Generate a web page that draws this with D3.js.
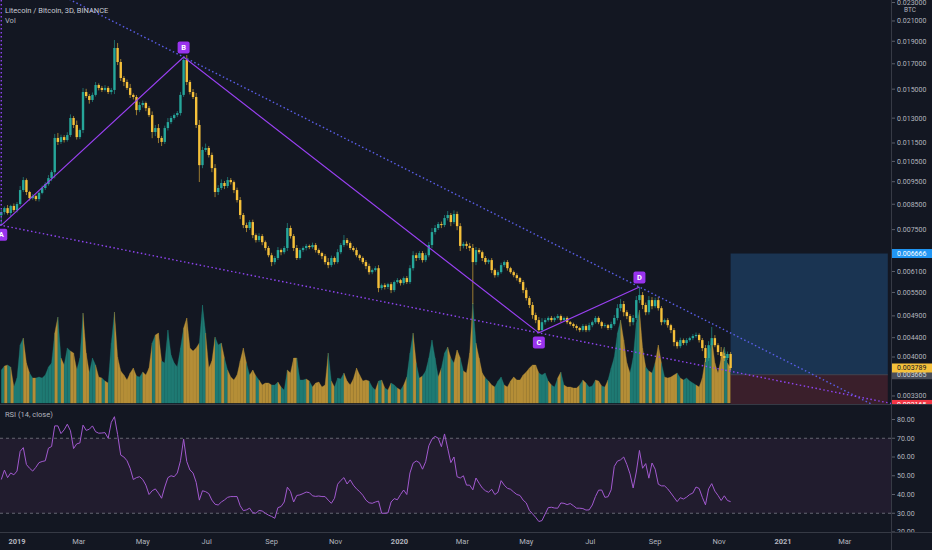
<!DOCTYPE html>
<html>
  <head>
    <meta charset="utf-8">
    <title>LTC/BTC 3D</title>
    <style>
      body {
        margin: 0;
        background-color: #131722;
      }
      svg {
        display: block;
        font-family: Roboto, "Liberation Sans", sans-serif;
      }
    </style>
  </head>
  <body>
    <div id="chart"></div>

    <script src="https://d3js.org/d3.v7.min.js"></script>
    <script>
    var width = 932;
    var height = 550;
    var paneRight = 891, priceBottom = 404, rsiBottom = 532;

    // 3D candles starting 2018-12-17, prices in 1e-6 BTC
    var firstCandle = "2018-12-17";
    var firstOpen = 8050;
    var closes = [
      8180, 8340, 8140, 8430, 8260, 8510, 9117, 9578, 9030, 8760,
      8850, 8720, 8990, 9210, 9390, 9670, 9960, 11790, 11560, 11840,
      11670, 11960, 13010, 12570, 11840, 12260, 14790, 14500, 14220, 14580,
      15310, 15090, 14940, 15090, 14790, 14940, 18380, 17150, 15850, 15540,
      15090, 14580, 14430, 13530, 13870, 14010, 13660, 13200, 12140, 12380,
      11790, 11560, 12380, 12750, 13010, 13200, 13330, 14580, 17320, 15540,
      14790, 14430, 12570, 10310, 11110, 11220, 10840, 10160, 9030, 9210,
      9440, 9300, 9578, 9480, 9117, 8678, 8060, 7670, 7560, 7785,
      7300, 7123, 7265, 7050, 6850, 6610, 6390, 6520, 6780, 6710,
      6850, 7560, 7265, 6850, 6520, 6780, 6850, 6920, 6880, 6950,
      6780, 6680, 6580, 6390, 6295, 6520, 6390, 6710, 6950, 7123,
      7020, 6850, 6780, 6610, 6520, 6390, 6265, 6080, 6142, 6200,
      5620, 5700, 5650, 5730, 5565, 5790, 5846, 5760, 5905, 5790,
      6200, 6610, 6520, 6680, 6453, 6610, 6950, 7410, 7560, 7710,
      7670, 7940, 8060, 7785, 8100, 7630, 6920, 6990, 6920, 6850,
      6390, 6780, 6710, 6520, 6390, 6453, 6142, 5990, 6080, 6295,
      6390, 6200, 6080, 5990, 5905, 5790, 5565, 5350, 5170, 4920,
      4799, 4568, 4750, 4799, 4850, 4799, 4850, 4895, 4799, 4850,
      4750, 4705, 4660, 4615, 4568, 4660, 4568, 4680, 4750, 4850,
      4750, 4660, 4680, 4615, 4705, 4850, 5090, 5195, 4990, 4895,
      4750, 4850, 5297, 5430, 5170, 4990, 5297, 5140, 5297, 5090,
      4750, 4799, 4680, 4568, 4305, 4220, 4348, 4285, 4348, 4390,
      4435, 4460, 4348, 4180, 3980, 4240, 4390, 4240, 4100, 4020,
      3980, 4060, 3789
    ];
    // wick length above / below the body, percent
    var wickUp = [
      1.0, 0.8, 1.5, 0.6, 1.2, 1.0, 2.0, 1.5, 0.8, 0.6,
      1.0, 0.7, 0.8, 1.2, 0.9, 1.5, 1.0, 2.0, 2.5, 1.2,
      1.0, 1.4, 1.8, 1.0, 2.2, 0.8, 2.0, 1.6, 1.0, 1.2,
      1.5, 0.8, 1.0, 1.4, 0.9, 1.0, 4.0, 2.5, 1.5, 1.0,
      1.2, 2.0, 0.8, 1.0, 1.5, 1.2, 0.7, 1.0, 1.8, 1.5,
      2.0, 1.0, 1.2, 2.0, 1.0, 0.8, 1.0, 1.5, 1.5, 2.5,
      1.0, 1.5, 2.0, 2.5, 1.6, 2.2, 1.0, 1.2, 2.0, 1.4,
      1.8, 1.0, 1.5, 1.0, 0.8, 1.2, 1.5, 1.0, 1.2, 1.0,
      1.2, 0.8, 1.4, 1.0, 0.8, 1.0, 1.2, 1.0, 1.5, 0.8,
      1.0, 2.5, 1.2, 1.0, 1.5, 1.0, 0.8, 1.0, 0.7, 1.2,
      1.0, 0.8, 0.7, 1.0, 2.0, 1.2, 0.8, 1.5, 1.0, 2.5,
      1.0, 0.8, 1.0, 1.2, 0.7, 0.8, 1.0, 1.2, 0.8, 1.0,
      1.5, 0.8, 1.0, 0.7, 1.0, 0.8, 1.0, 0.6, 0.8, 1.0,
      1.5, 2.0, 1.2, 1.0, 1.0, 1.2, 1.5, 2.0, 1.5, 1.0,
      1.2, 1.5, 2.0, 1.0, 1.8, 1.2, 1.5, 1.0, 1.2, 1.5,
      2.0, 1.5, 1.0, 0.8, 1.0, 0.7, 1.0, 0.8, 1.0, 1.2,
      0.8, 1.0, 0.7, 0.8, 1.0, 0.6, 1.0, 1.2, 1.0, 1.5,
      1.2, 1.5, 2.0, 1.0, 0.8, 1.0, 0.7, 1.0, 0.8, 0.7,
      0.8, 0.6, 0.7, 0.8, 0.6, 1.0, 0.8, 1.2, 0.8, 1.0,
      0.8, 0.7, 1.0, 0.6, 1.2, 1.5, 2.0, 2.5, 1.5, 1.0,
      1.0, 1.5, 2.0, 4.0, 1.5, 1.2, 2.0, 1.5, 1.2, 1.5,
      1.0, 0.8, 1.0, 0.7, 1.0, 0.8, 1.2, 0.8, 1.0, 0.7,
      1.0, 1.2, 0.8, 1.0, 1.5, 2.0, 5.7, 1.5, 1.0, 2.5,
      1.5, 1.2, 1.0
    ];
    var wickDn = [
      5.0, 1.2, 0.8, 1.5, 1.0, 1.2, 0.8, 1.0, 1.5, 1.2,
      0.8, 1.0, 1.2, 0.7, 1.0, 0.8, 1.5, 3.0, 1.5, 1.0,
      1.2, 0.8, 1.0, 1.5, 1.2, 1.0, 1.5, 1.0, 1.8, 1.0,
      0.8, 1.2, 1.0, 0.8, 1.0, 1.2, 2.0, 1.5, 1.5, 2.0,
      1.0, 1.5, 1.2, 2.5, 1.0, 1.2, 1.5, 1.0, 3.0, 2.0,
      2.5, 2.0, 1.0, 1.2, 1.0, 0.8, 1.0, 1.2, 1.0, 1.5,
      1.2, 1.0, 1.5, 8.0, 1.5, 1.0, 1.2, 2.0, 2.5, 1.5,
      1.0, 1.5, 1.0, 1.2, 1.5, 1.2, 2.0, 1.5, 2.0, 1.0,
      1.5, 1.2, 1.0, 1.5, 1.2, 1.0, 2.0, 1.2, 1.0, 1.5,
      1.0, 1.5, 1.2, 1.5, 1.0, 0.8, 1.0, 1.2, 1.0, 0.8,
      1.2, 1.0, 1.5, 1.2, 1.5, 1.0, 1.2, 0.8, 1.0, 1.0,
      1.2, 1.0, 0.8, 1.0, 1.2, 1.0, 1.5, 1.2, 1.0, 0.8,
      2.0, 1.0, 1.2, 1.0, 1.5, 1.0, 0.8, 1.2, 1.0, 1.0,
      1.0, 1.2, 1.5, 1.0, 1.2, 1.0, 1.0, 1.5, 1.2, 1.0,
      1.5, 1.0, 1.2, 2.0, 1.0, 2.0, 2.5, 1.2, 1.5, 1.5,
      18.6, 1.5, 1.0, 1.5, 1.2, 1.0, 1.5, 1.2, 1.0, 0.8,
      1.0, 1.2, 0.8, 1.0, 1.2, 1.0, 1.5, 1.2, 1.5, 1.8,
      1.5, 1.4, 1.0, 1.2, 0.8, 1.0, 1.0, 0.8, 1.0, 0.8,
      1.0, 0.8, 1.0, 1.2, 1.0, 0.8, 1.0, 0.8, 1.0, 0.8,
      1.0, 1.2, 0.8, 1.0, 1.0, 0.8, 1.2, 1.5, 2.0, 1.5,
      2.0, 1.5, 1.0, 1.5, 2.0, 1.5, 1.2, 1.5, 1.0, 1.2,
      1.5, 1.0, 1.2, 1.5, 2.0, 1.2, 1.0, 1.0, 1.2, 0.8,
      1.0, 0.8, 1.2, 1.5, 2.0, 1.5, 1.2, 1.0, 1.5, 1.2,
      1.5, 1.0, 1.2
    ];
    // volume, thousand LTC
    var volumes = [
      33, 37, 38, 36, 16, 25, 58, 65, 40, 30,
      25, 25, 26, 25, 28, 36, 40, 70, 86, 45,
      38, 55, 52, 50, 33, 45, 90, 50, 30, 45,
      38, 26, 25, 22, 20, 60, 91, 46, 32, 28,
      23, 30, 35, 27, 26, 31, 28, 35, 60, 68,
      70, 42, 40, 73, 48, 40, 36, 55, 75, 85,
      55, 52, 55, 60, 98, 70, 35, 42, 66, 58,
      60, 45, 33, 26, 23, 28, 42, 55, 40, 28,
      33, 27, 23, 18, 20, 20, 18, 18, 21, 16,
      13, 33, 30, 45, 45, 23, 23, 24, 22, 16,
      20, 21, 16, 18, 50, 22, 16, 25, 24, 30,
      22, 18, 24, 35, 28, 22, 23, 22, 16, 13,
      22, 23, 15, 13, 20, 18, 15, 13, 18, 26,
      50, 70, 40, 25, 27, 32, 45, 63, 45, 26,
      35, 50, 56, 45, 40, 53, 45, 32, 30, 50,
      100, 60, 45, 30, 25, 22, 18, 16, 22, 26,
      18, 16, 22, 26, 23, 23, 28, 31, 35, 38,
      38, 30, 28, 30, 22, 18, 16, 25, 31, 18,
      16, 16, 15, 15, 18, 23, 20, 16, 17, 23,
      22, 17, 16, 23, 35, 46, 70, 83, 63, 40,
      30, 45, 80, 93, 55, 36, 32, 30, 40, 58,
      40, 26, 25, 26, 28, 30, 25, 23, 25, 22,
      20, 18, 16, 25, 45, 45, 65, 40, 30, 45,
      56, 40, 35
    ];
    var rsi = [
      48, 53, 49, 51.5, 50.5, 52.5, 63, 65, 56, 54,
      52.5, 54.5, 57, 57.6, 58, 64.7, 65.6, 76.6, 76.6, 72.5,
      74.5, 77.5, 74, 64.5, 67, 67.5, 77, 74.2, 74.8, 76.6,
      73.5, 72.7, 72.8, 73, 70, 78.5, 81.5, 72, 61, 60,
      58, 54, 48, 49, 49.5, 48, 45, 40, 42, 43,
      40.7, 38, 44, 49, 50, 49.5, 51.5, 58, 69.5, 57.6,
      53.1, 51.5, 46.5, 37, 42, 41.5, 40.5, 37, 34.8, 34.4,
      36, 37.1, 38.5, 38.9, 38.9, 38.9, 34, 31.4, 31.8, 32.7,
      30.3, 30, 31.5, 31.2, 30, 29, 28.3, 27.3, 33, 33.6,
      36, 43.9, 41.6, 36, 39.5, 39.8, 40.5, 41.3, 41, 39.3,
      39, 39.2, 38.9, 38.9, 37, 35.3, 38, 45.5, 47.5, 49,
      45.6, 47.8, 45, 43, 41.5, 39.6, 37, 35.6, 35.3, 36,
      36.5, 30, 30, 30.2, 36, 37.8, 37.2, 40, 42.4, 40,
      51.5, 56.7, 57.9, 57, 53.5, 57.5, 66, 69.5, 71, 70,
      65.5, 72.3, 64.7, 57, 60, 49.5, 48.8, 50, 45, 45,
      42.5, 48.8, 46, 43.5, 42, 41.2, 42.8, 40, 41.2, 47.4,
      45, 43.3, 42.8, 41.3, 40, 39.5, 37, 35.5, 31.5, 29.7,
      27.8, 25.6, 26.1, 29.6, 33, 33.2, 32.8, 32.7, 35.5, 35.3,
      34.6, 35.2, 34, 32.7, 32.7, 32.5, 31.7, 31.8, 34.4, 38.9,
      42.3, 42.4, 38.5, 38.8, 42.5, 55, 57.8, 58.5, 60, 56,
      51, 43.5, 52, 63.5, 54, 56.5, 48.7, 56.8, 53.5, 45.5,
      44.6, 44.6, 43, 40.8, 38.5, 36.2, 38.3, 37.6, 38.6, 40,
      40.8, 44, 43.2, 38.5, 34.5, 43, 45.8, 41.8, 39.5, 36.8,
      39.3, 36.8, 36.2
    ];

    var priceTicks = [0.023, 0.021, 0.019, 0.017, 0.015, 0.013, 0.0115, 0.0105, 0.0095,
      0.0085, 0.0075, 0.0061, 0.0055, 0.0049, 0.0044, 0.0040, 0.0033];
    var rsiTicks = [80, 70, 60, 50, 40, 30, 20];
    var timeTicks = ["2019-01-01", "2019-03-01", "2019-05-01", "2019-07-01", "2019-09-01", "2019-11-01",
      "2020-01-01", "2020-03-01", "2020-05-01", "2020-07-01", "2020-09-01", "2020-11-01",
      "2021-01-01", "2021-03-01"];

    var patternLabels = ["A", "B", "C", "D"];
    var patternDates = ["2018-12-17", "2019-06-09", "2020-05-13", "2020-08-17"];
    var patternPrices = [0.00766, 0.01758, 0.004505, 0.00565];

    var targetPrice = 0.006666, entryPrice = 0.003665, stopPrice = 0.003165;
    var positionEnd = "2021-04-11";

    var parse = d3.utcParse("%Y-%m-%d");
    var start = parse(firstCandle);
    var candles = closes.map(function(c, i) {
      var open = (i === 0 ? firstOpen : closes[i - 1]) / 1e6;
      var close = c / 1e6;
      return {
        date: d3.utcDay.offset(start, 3 * i),
        open: open,
        close: close,
        high: Math.max(open, close) * (1 + wickUp[i] / 100),
        low: Math.min(open, close) * (1 - wickDn[i] / 100),
        vol: volumes[i],
        rsi: rsi[i],
        up: close >= open
      };
    });

    var x = d3.scaleUtc()
      .domain([parse("2019-01-01"), parse("2021-01-01")])
      .range([17, 783]);
    var y = d3.scaleLog()
      .domain([0.003172, 0.02329])
      .range([priceBottom, 0]);
    var yVol = d3.scaleLinear()
      .domain([0, 100])
      .range([403, 303]);
    var yRsi = d3.scaleLinear()
      .domain([20, 80])
      .range([532, 419.5]);

    var teal = "#26a69a", gold = "#f5c03a";
    var textColor = "#b2b5be";

    var svg = d3.select("#chart").append("svg")
      .attr("width", width)
      .attr("height", height);

    svg.append("rect")
      .attr("width", width)
      .attr("height", height)
      .attr("fill", "#131722");

    var defs = svg.append("defs");
    defs.append("clipPath").attr("id", "priceClip")
      .append("rect").attr("x", 0).attr("y", 0).attr("width", paneRight).attr("height", priceBottom);
    defs.append("clipPath").attr("id", "rsiClip")
      .append("rect").attr("x", 0).attr("y", priceBottom + 1).attr("width", paneRight).attr("height", rsiBottom - priceBottom - 1);
    defs.append("clipPath").attr("id", "priceAxisClip")
      .append("rect").attr("x", paneRight).attr("y", 0).attr("width", width - paneRight).attr("height", priceBottom);
    defs.append("clipPath").attr("id", "rsiAxisClip")
      .append("rect").attr("x", paneRight).attr("y", priceBottom + 1).attr("width", width - paneRight).attr("height", rsiBottom - priceBottom - 1);

    var pane = svg.append("g").attr("clip-path", "url(#priceClip)");

    // volume as a per-bar coloured area
    var volArea = d3.area()
      .x(function(d) { return x(d.date); })
      .y0(yVol(0))
      .y1(function(d) { return yVol(d.vol); });
    var volPairs = d3.pairs(candles);
    pane.append("g").selectAll("path")
      .data(volPairs)
      .enter()
      .append("path")
      .attr("d", function(p) { return volArea(p); })
      .attr("fill", function(p) { return p[1].up ? "#1f7a73" : "#b58e37"; })
      .attr("stroke", function(p) { return p[1].up ? "#1f7a73" : "#b58e37"; })
      .attr("stroke-width", 0.3);

    // long position tool
    var last = candles[candles.length - 1];
    var boxX0 = x(last.date), boxX1 = x(parse(positionEnd));
    pane.append("rect")
      .attr("x", boxX0)
      .attr("y", y(targetPrice))
      .attr("width", boxX1 - boxX0)
      .attr("height", y(entryPrice) - y(targetPrice))
      .attr("fill", "#1a3452");
    pane.append("rect")
      .attr("x", boxX0)
      .attr("y", y(entryPrice))
      .attr("width", boxX1 - boxX0)
      .attr("height", y(stopPrice) - y(entryPrice))
      .attr("fill", "#3a1f2b");
    pane.append("line")
      .attr("x1", boxX0).attr("x2", boxX1)
      .attr("y1", y(entryPrice)).attr("y2", y(entryPrice))
      .attr("stroke", "#4a4e59")
      .attr("stroke-width", 0.8);

    // candles
    var cg = pane.append("g");
    cg.selectAll("line")
      .data(candles)
      .enter()
      .append("line")
      .attr("x1", function(d) { return x(d.date); })
      .attr("x2", function(d) { return x(d.date); })
      .attr("y1", function(d) { return y(d.high); })
      .attr("y2", function(d) { return y(d.low); })
      .attr("stroke", function(d) { return d.up ? teal : gold; })
      .attr("stroke-opacity", 0.75)
      .attr("stroke-width", 0.8);
    cg.selectAll("rect")
      .data(candles)
      .enter()
      .append("rect")
      .attr("x", function(d) { return x(d.date) - 1.2; })
      .attr("width", 2.4)
      .attr("y", function(d) { return y(Math.max(d.open, d.close)); })
      .attr("height", function(d) { return Math.max(0.8, Math.abs(y(d.open) - y(d.close))); })
      .attr("fill", function(d) { return d.up ? teal : gold; });

    // pattern and trend lines
    var pts = patternLabels.map(function(l, i) {
      return {label: l, x: x(parse(patternDates[i])), y: y(patternPrices[i])};
    });
    function extended(a, b) {
      var k = (b.y - a.y) / (b.x - a.x);
      return [[-20, a.y + k * (-20 - a.x)], [paneRight + 20, a.y + k * (paneRight + 20 - a.x)]];
    }
    pane.append("path")
      .attr("d", d3.line()(extended(pts[1], pts[3])))
      .attr("stroke", "#5a5ee8")
      .attr("stroke-width", 1.4)
      .attr("stroke-dasharray", "1.5,2.5")
      .attr("fill", "none");
    pane.append("path")
      .attr("d", d3.line()(extended(pts[0], pts[2])))
      .attr("stroke", "#8e44f0")
      .attr("stroke-width", 1.4)
      .attr("stroke-dasharray", "1.5,2.5")
      .attr("fill", "none");
    pane.append("line")
      .attr("x1", pts[0].x).attr("x2", pts[0].x)
      .attr("y1", 0).attr("y2", pts[0].y)
      .attr("stroke", "#8e44f0")
      .attr("stroke-width", 1.4)
      .attr("stroke-dasharray", "1.5,2.5");
    pane.append("path")
      .attr("d", d3.line().x(function(d) { return d.x; }).y(function(d) { return d.y; })(pts))
      .attr("stroke", "#9840f0")
      .attr("stroke-width", 1.2)
      .attr("fill", "none");

    var lbl = pane.selectAll(".pl")
      .data(pts)
      .enter()
      .append("g")
      .attr("transform", function(d, i) {
        var dy = (i % 2 === 0) ? 9.5 : -9.5;
        return "translate(" + d.x + "," + (d.y + dy) + ")";
      });
    lbl.append("rect")
      .attr("x", -6).attr("y", -6)
      .attr("width", 12).attr("height", 12)
      .attr("rx", 2)
      .attr("fill", "#9933ee");
    lbl.append("text")
      .attr("text-anchor", "middle")
      .attr("dy", "0.35em")
      .attr("font-size", 7.5)
      .attr("font-weight", "bold")
      .attr("fill", "#ffffff")
      .text(function(d) { return d.label; });

    // RSI pane
    var rp = svg.append("g").attr("clip-path", "url(#rsiClip)");
    rp.append("rect")
      .attr("x", 0).attr("width", paneRight)
      .attr("y", yRsi(70)).attr("height", yRsi(30) - yRsi(70))
      .attr("fill", "#211c2e");
    rp.selectAll(".band")
      .data([70, 30])
      .enter()
      .append("line")
      .attr("x1", 0).attr("x2", paneRight)
      .attr("y1", function(d) { return yRsi(d); })
      .attr("y2", function(d) { return yRsi(d); })
      .attr("stroke", "#787b86")
      .attr("stroke-width", 0.8)
      .attr("stroke-dasharray", "3,3");
    rp.append("path")
      .attr("d", d3.line()
        .x(function(d) { return x(d.date); })
        .y(function(d) { return yRsi(d.rsi); })(candles))
      .attr("stroke", "#a159cf")
      .attr("stroke-width", 1)
      .attr("fill", "none");

    // separators
    svg.append("line")
      .attr("x1", paneRight + 0.5).attr("x2", paneRight + 0.5)
      .attr("y1", 0).attr("y2", height)
      .attr("stroke", "#363a45");
    svg.append("line")
      .attr("x1", 0).attr("x2", width)
      .attr("y1", priceBottom + 0.5).attr("y2", priceBottom + 0.5)
      .attr("stroke", "#363a45");
    svg.append("line")
      .attr("x1", 0).attr("x2", width)
      .attr("y1", rsiBottom + 0.5).attr("y2", rsiBottom + 0.5)
      .attr("stroke", "#363a45");

    // price axis
    var fmt = d3.format(".6f");
    var pa = svg.append("g").attr("clip-path", "url(#priceAxisClip)");
    var pt = pa.selectAll(".pt")
      .data(priceTicks)
      .enter()
      .append("g")
      .attr("transform", function(d) { return "translate(" + paneRight + "," + y(d) + ")"; });
    pt.append("line").attr("x1", 1).attr("x2", 4).attr("stroke", "#5d606b");
    pt.append("text")
      .attr("x", 6)
      .attr("dy", "0.35em")
      .attr("font-size", 7)
      .attr("fill", textColor)
      .text(function(d) { return fmt(d); });
    pa.append("text")
      .attr("x", 910).attr("y", 9.5)
      .attr("dy", "0.35em")
      .attr("text-anchor", "middle")
      .attr("font-size", 6.5)
      .attr("fill", textColor)
      .text("BTC");

    var tags = [
      {p: stopPrice, bg: "#f23645", fg: "#ffffff"},
      {p: entryPrice, bg: "#4a4e59", fg: "#d1d4dc"},
      {p: targetPrice, bg: "#2196f3", fg: "#ffffff"},
      {p: last.close, bg: "#f5c03a", fg: "#131722"}
    ];
    var tg = pa.selectAll(".tag")
      .data(tags)
      .enter()
      .append("g")
      .attr("transform", function(d) { return "translate(" + (paneRight + 1) + "," + y(d.p) + ")"; });
    tg.append("rect")
      .attr("x", 0).attr("y", -4.5)
      .attr("width", width - paneRight).attr("height", 9)
      .attr("fill", function(d) { return d.bg; });
    tg.append("text")
      .attr("x", 5)
      .attr("dy", "0.35em")
      .attr("font-size", 7)
      .attr("fill", function(d) { return d.fg; })
      .text(function(d) { return fmt(d.p); });

    // RSI axis
    var ra = svg.append("g").attr("clip-path", "url(#rsiAxisClip)");
    var rt = ra.selectAll(".rt")
      .data(rsiTicks)
      .enter()
      .append("g")
      .attr("transform", function(d) { return "translate(" + paneRight + "," + yRsi(d) + ")"; });
    rt.append("line").attr("x1", 1).attr("x2", 4).attr("stroke", "#5d606b");
    rt.append("text")
      .attr("x", 6)
      .attr("dy", "0.35em")
      .attr("font-size", 7)
      .attr("fill", textColor)
      .text(function(d) { return d3.format(".2f")(d); });

    // time axis
    var tfmt = function(d) {
      return d.getUTCMonth() === 0 ? d3.utcFormat("%Y")(d) : d3.utcFormat("%b")(d);
    };
    svg.append("g").selectAll("text")
      .data(timeTicks.map(parse))
      .enter()
      .append("text")
      .attr("x", function(d) { return x(d); })
      .attr("y", 541)
      .attr("dy", "0.35em")
      .attr("text-anchor", "middle")
      .attr("font-size", 7.5)
      .attr("font-weight", function(d) { return d.getUTCMonth() === 0 ? "bold" : "normal"; })
      .attr("fill", textColor)
      .text(tfmt);

    // legends
    svg.append("text")
      .attr("x", 5).attr("y", 10)
      .attr("dy", "0.35em")
      .attr("font-size", 7.5)
      .attr("fill", "#c8cbd3")
      .text("Litecoin / Bitcoin, 3D, BINANCE");
    svg.append("text")
      .attr("x", 5).attr("y", 20.5)
      .attr("dy", "0.35em")
      .attr("font-size", 7.5)
      .attr("fill", textColor)
      .text("Vol");
    svg.append("text")
      .attr("x", 5).attr("y", 414)
      .attr("dy", "0.35em")
      .attr("font-size", 7.5)
      .attr("fill", textColor)
      .text("RSI (14, close)");
    </script>
  </body>
</html>
